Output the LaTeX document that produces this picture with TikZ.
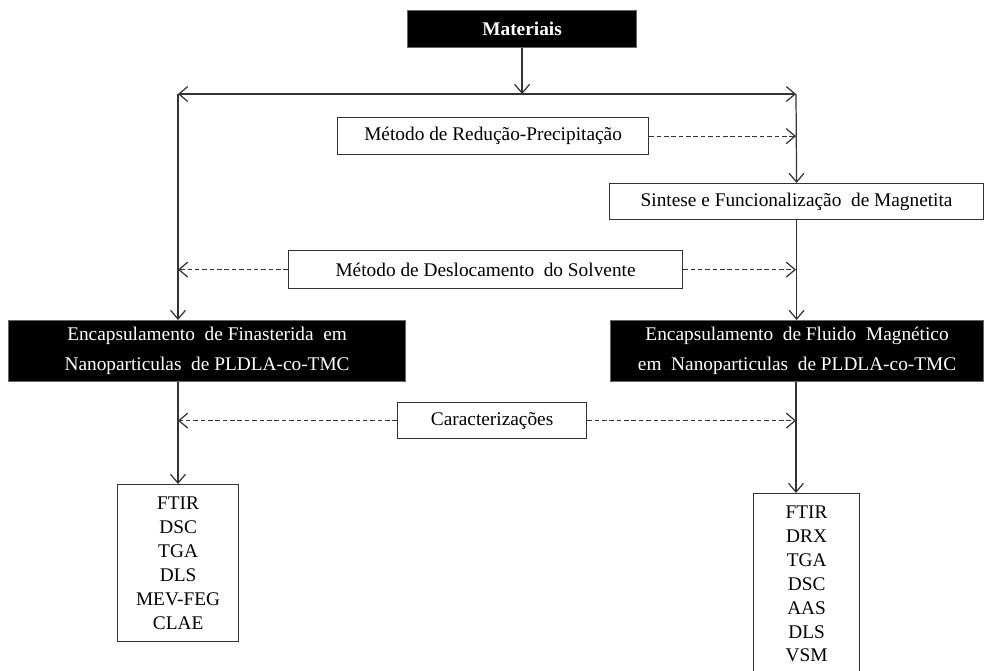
\documentclass[tikz,border=0pt]{standalone}
\usepackage{fontspec}
\setmainfont{Liberation Serif}
\usetikzlibrary{arrows.meta}

\begin{document}
\begin{tikzpicture}[x=0.02cm, y=-0.02cm,
        line width=0.7pt,
        >={Straight Barb[length=5pt,width=8.5pt]},
        conn/.style={draw=black!80},
        dashconn/.style={draw=black!80, dash pattern=on 2.6pt off 1.6pt},
        blackbox/.style={draw=black!60, fill=black, text=white, anchor=north west, inner sep=0pt, align=center, font=\fontsize{11}{17}\selectfont},
        whitebox/.style={draw=black!80, fill=white, anchor=north west, inner sep=0pt, align=center, font=\fontsize{11}{13.6}\selectfont}]
    \clip (0,0) rectangle (990,670);
    \fill[white] (0,0) rectangle (990,670);
    % boxes
    \node[blackbox, minimum width=4.58cm, minimum height=0.74cm, font=\fontsize{11}{17}\selectfont\bfseries] (mat) at (407,10) {Materiais};
    \node[whitebox, minimum width=6.22cm, minimum height=0.74cm] (redu) at (337,117) {Método de Redução-Precipitação};
    \node[whitebox, minimum width=7.48cm, minimum height=0.72cm] (sint) at (609,183) {Sintese e Funcionalização~ de Magnetita};
    \node[whitebox, minimum width=7.88cm, minimum height=0.76cm] (desl) at (288,250) {Método de Deslocamento~ do Solvente};
    \node[blackbox, minimum width=7.94cm, minimum height=1.22cm] (encF) at (8,320) {Encapsulamento~ de Finasterida~ em\\Nanoparticulas~ de PLDLA-co-TMC};
    \node[blackbox, minimum width=7.46cm, minimum height=1.22cm] (encM) at (610,320) {Encapsulamento~ de Fluido~ Magnético\\em~ Nanoparticulas~ de PLDLA-co-TMC};
    \node[whitebox, minimum width=3.78cm, minimum height=0.72cm] (carac) at (397,402) {Caracterizações};
    \node[whitebox, minimum width=2.42cm, minimum height=3.14cm] (listF) at (117,484) {FTIR\\DSC\\TGA\\DLS\\MEV-FEG\\CLAE};
    \node[whitebox, minimum width=2.12cm, minimum height=3.62cm] (listM) at (753,493) {FTIR\\DRX\\TGA\\DSC\\AAS\\DLS\\VSM};
    % connectors
    \coordinate (hl) at (178,94);
    \coordinate (hr) at (796,94);
    \draw[conn, ->] (mat) -- (mat |- hl);
    \draw[conn, <->] (hl) -- (hr);
    \draw[conn, ->] (hl) -- (hl |- encF.north);
    \draw[conn, ->] (hr) -- (sint.north);
    \draw[conn, ->] (sint) -- (sint |- encM.north);
    \draw[conn, ->] (hl |- encF.south) -- (hl |- listF.north);
    \draw[conn, ->] (hr |- encM.south) -- (hr |- listM.north);
    \draw[dashconn, ->] (redu) -- (redu -| hr);
    \draw[dashconn, ->] (desl) -- (desl -| hl);
    \draw[dashconn, ->] (desl) -- (desl -| hr);
    \draw[dashconn, ->] (carac) -- (carac -| hl);
    \draw[dashconn, ->] (carac) -- (carac -| hr);
\end{tikzpicture}
\end{document}
